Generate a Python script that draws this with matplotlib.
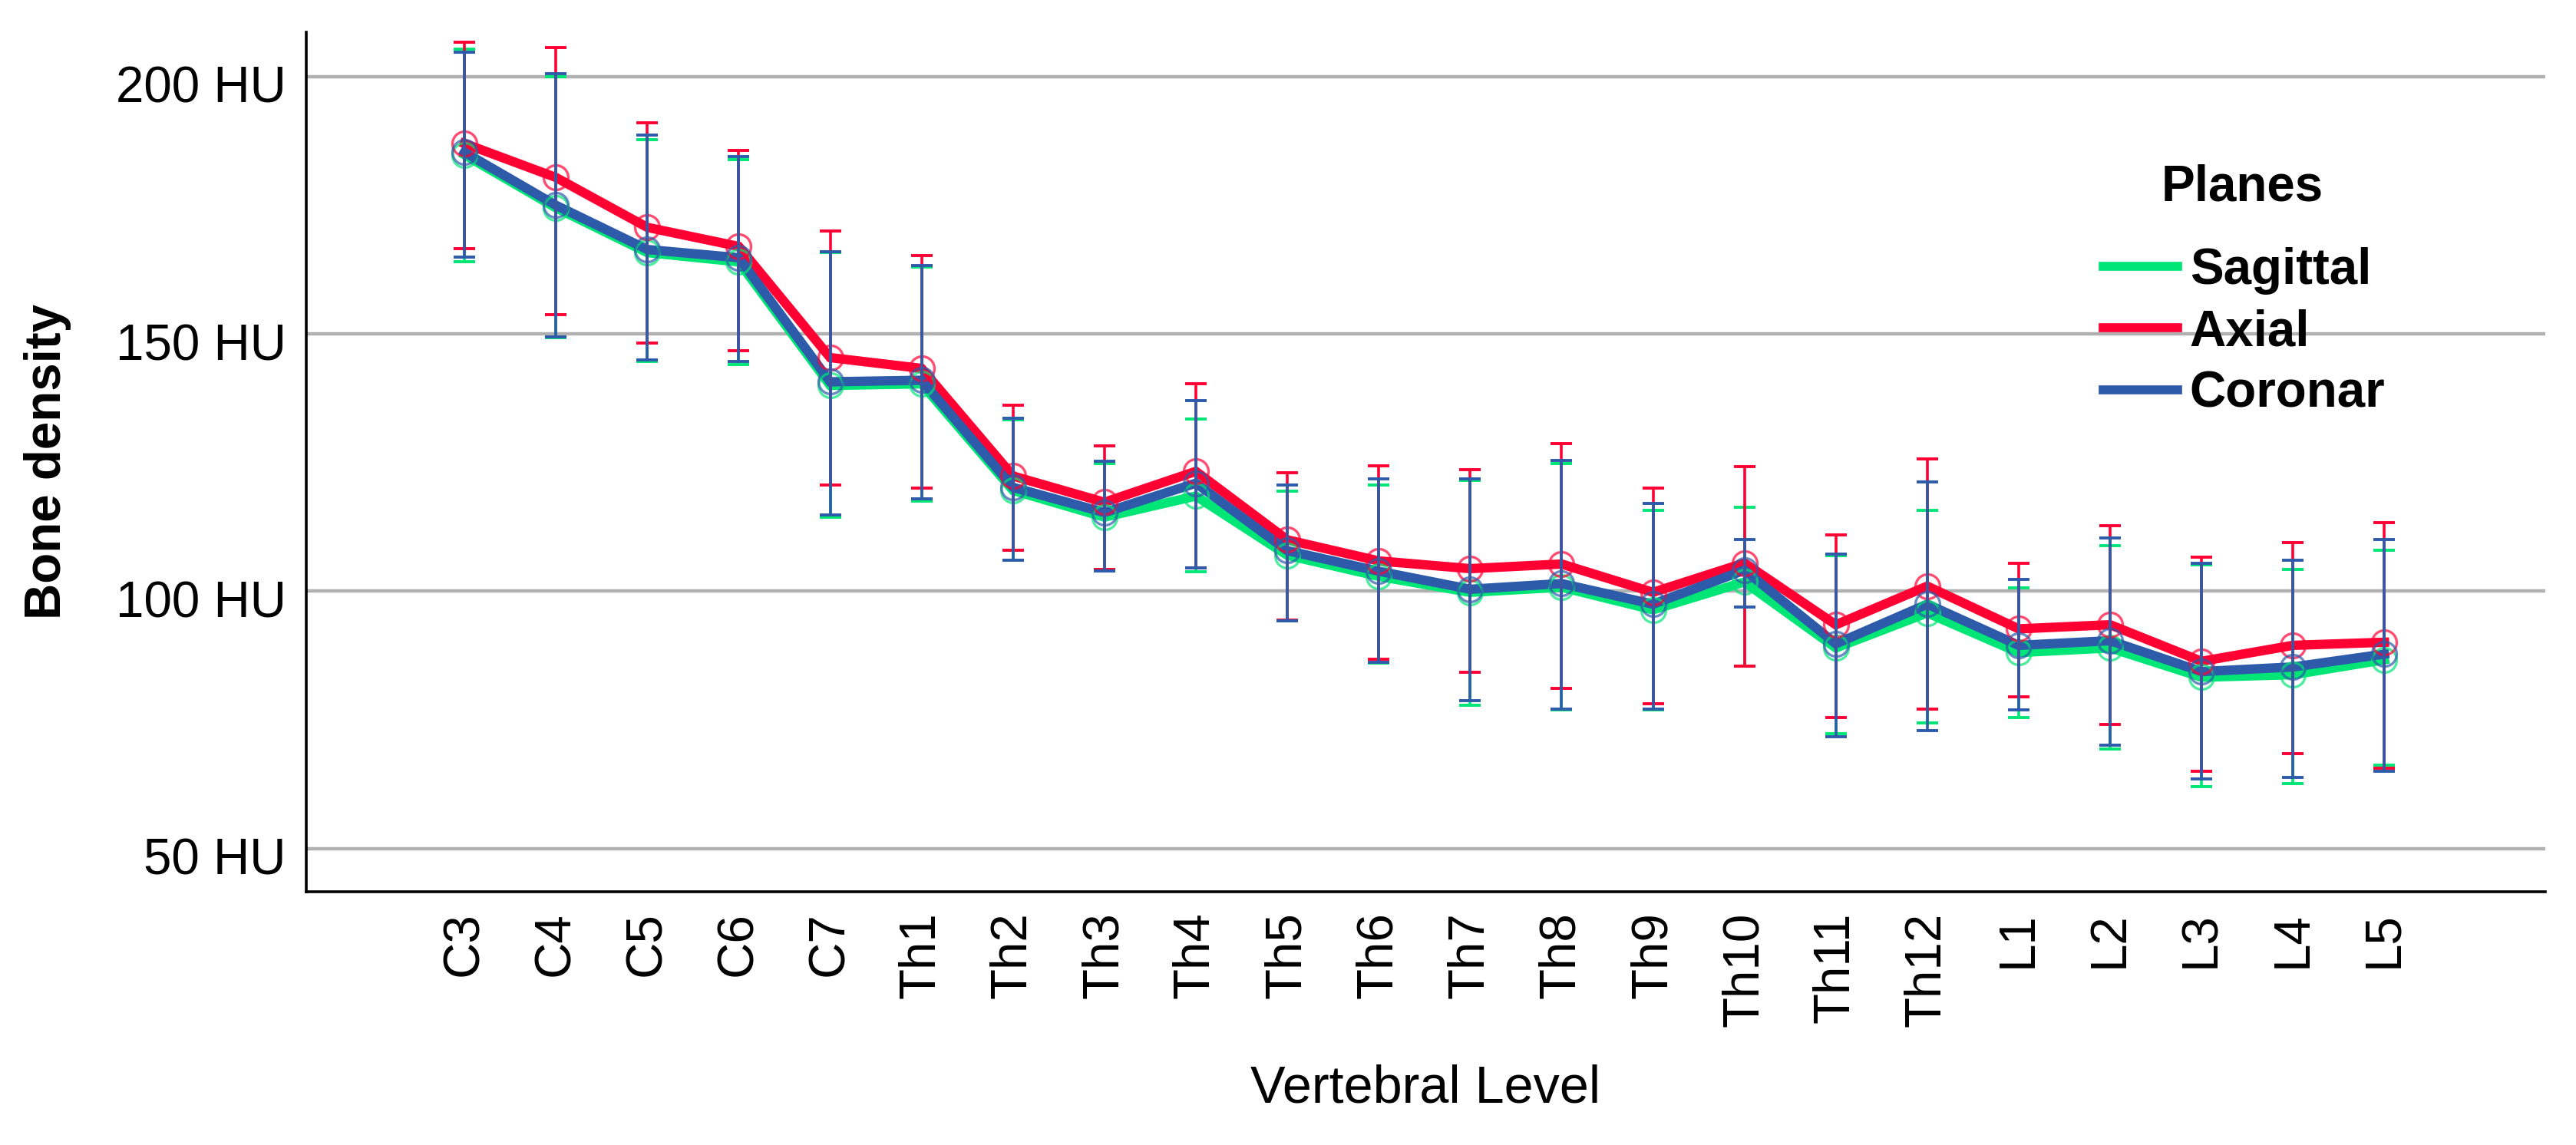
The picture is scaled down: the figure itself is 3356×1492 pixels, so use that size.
import numpy as np
import matplotlib
matplotlib.use("Agg")
import matplotlib.pyplot as plt
from matplotlib.lines import Line2D
from matplotlib.transforms import ScaledTranslation

plt.rcParams['font.family'] = ['Liberation Sans', 'DejaVu Sans']

# vertebral levels
levels = ['C3', 'C4', 'C5', 'C6', 'C7',
          'Th1', 'Th2', 'Th3', 'Th4', 'Th5', 'Th6', 'Th7', 'Th8', 'Th9', 'Th10', 'Th11', 'Th12',
          'L1', 'L2', 'L3', 'L4', 'L5']

# mean bone density (HU) per plane
sagittal = [184.8, 174.5, 165.8, 164.0, 140.0, 140.3, 119.6, 114.4, 118.5, 107.0, 102.9,
            99.8, 100.8, 96.4, 101.8, 89.0, 95.8, 88.1, 89.0, 83.3, 83.8, 86.7]
axial = [187.0, 180.4, 170.7, 167.0, 145.4, 143.3, 122.4, 117.3, 123.3, 110.0, 105.9,
         104.4, 105.3, 99.8, 105.5, 93.5, 101.0, 92.7, 93.5, 86.4, 89.5, 90.1]
coronar = [185.3, 175.0, 166.4, 164.8, 140.7, 141.0, 120.2, 115.3, 121.0, 107.9, 103.9,
           100.4, 101.5, 97.5, 104.1, 89.8, 97.5, 89.5, 90.4, 84.4, 85.3, 87.8]

# upper / lower ends of the error bars
sagittal_hi = [205.4, 200.0, 187.7, 183.8, 165.8, 163.0, 133.3, 124.8, 133.4, 119.4, 120.6,
               121.5, 124.8, 115.7, 116.3, 107.0, 115.7, 100.6, 108.8, 105.2, 104.3, 107.9]
sagittal_lo = [164.1, 149.2, 144.7, 144.0, 114.4, 117.5, 106.0, 103.9, 103.8, 94.2, 86.0,
               77.8, 77.0, 77.0, 85.5, 72.4, 74.5, 75.4, 69.3, 62.1, 62.7, 66.2]
axial_hi = [206.6, 205.6, 191.0, 185.6, 170.0, 165.3, 136.1, 128.3, 140.4, 123.0, 124.4,
            123.7, 128.7, 120.0, 124.2, 110.9, 125.7, 105.5, 112.7, 106.7, 109.4, 113.3]
axial_lo = [166.5, 153.7, 148.2, 146.7, 120.6, 120.0, 108.0, 104.2, 104.6, 94.4, 86.8,
            84.3, 81.1, 78.1, 85.5, 75.4, 77.1, 79.5, 74.2, 65.1, 68.4, 65.7]
coronar_hi = [204.8, 200.6, 188.6, 184.4, 166.0, 163.3, 133.6, 125.3, 137.1, 120.6, 121.8,
              121.8, 125.4, 117.1, 110.0, 107.3, 121.2, 102.3, 110.3, 105.5, 106.1, 110.1]
coronar_lo = [165.0, 149.4, 144.9, 144.6, 114.8, 118.0, 106.1, 104.0, 104.6, 94.3, 86.2,
              78.7, 77.1, 77.1, 97.0, 71.8, 73.0, 76.9, 70.1, 63.5, 63.8, 65.1]

yticks = [50, 100, 150, 200]

series = [
    ('Sagittal', sagittal, sagittal_lo, sagittal_hi, '#00E676'),
    ('Axial', axial, axial_lo, axial_hi, '#FF0033'),
    ('Coronar', coronar, coronar_lo, coronar_hi, '#2D5BAA'),
]

fig = plt.figure(figsize=(16.78, 7.46), dpi=200)
ax = fig.add_axes([0.1189, 0.2215, 0.8692, 0.7503])

x = np.arange(len(levels))

for name, mean, lo, hi, col in series:
    ax.plot(x, mean, color=col, lw=4.4, zorder=3, solid_joinstyle='miter')
    ax.plot(x, mean, 'o', ms=11.5, mfc='none', mec=col, mew=1.2, alpha=0.7, zorder=4)

for name, mean, lo, hi, col in series:
    m = np.array(mean)
    err = [m - np.array(lo), np.array(hi) - m]
    ax.errorbar(x, m, yerr=err, fmt='none', ecolor=col, elinewidth=1.3,
                capsize=5.2, capthick=1.4, zorder=5)

ax.set_xlim(-1.73, 22.76)
ax.set_ylim(41.7, 208.6)
ax.set_yticks(yticks)
ax.set_yticklabels([f'{v} HU' for v in yticks])
ax.set_xticks(x)
ax.set_xticklabels(levels, rotation=90)
ax.tick_params(axis='both', length=0, labelsize=23.6, colors='black')
ax.tick_params(axis='y', pad=9.4)
ax.tick_params(axis='x', pad=9.7)

# SPSS puts the value labels a little below the grid lines
shift = ScaledTranslation(0, -10 / 200, fig.dpi_scale_trans)
for lbl in ax.get_yticklabels():
    lbl.set_transform(lbl.get_transform() + shift)

ax.yaxis.grid(True, color='#B0B0B0', lw=1.6, zorder=0)
ax.set_axisbelow(True)
for s in ['top', 'right']:
    ax.spines[s].set_visible(False)
for s in ['left', 'bottom']:
    ax.spines[s].set_linewidth(1.3)
    ax.spines[s].set_color('black')

ax.set_ylabel('Bone density', fontsize=23.6, fontweight='bold')
ax.yaxis.set_label_coords(-0.1155, 0.5)
ax.yaxis.label.set_va('center')
ax.set_xlabel('Vertebral Level', fontsize=24.6)
ax.xaxis.set_label_coords(0.5, -0.23)
ax.xaxis.label.set_va('center')

handles = [Line2D([0], [0], color=col, lw=4.2) for name, mean, lo, hi, col in series]
names = [name for name, mean, lo, hi, col in series]
leg = ax.legend(handles, names, loc='upper left', bbox_to_anchor=(2740 / 3356, 1 - 322 / 1492),
                bbox_transform=fig.transFigure, frameon=False,
                prop={'size': 23.6, 'weight': 'bold'}, handlelength=1.48,
                handletextpad=0.24, labelspacing=0.28, borderpad=0, borderaxespad=0)
fig.text(2921 / 3356, 1 - 244 / 1492, 'Planes', fontsize=23.6, fontweight='bold',
         ha='center', va='center')

fig.savefig('out.png', dpi=200, facecolor='white')
